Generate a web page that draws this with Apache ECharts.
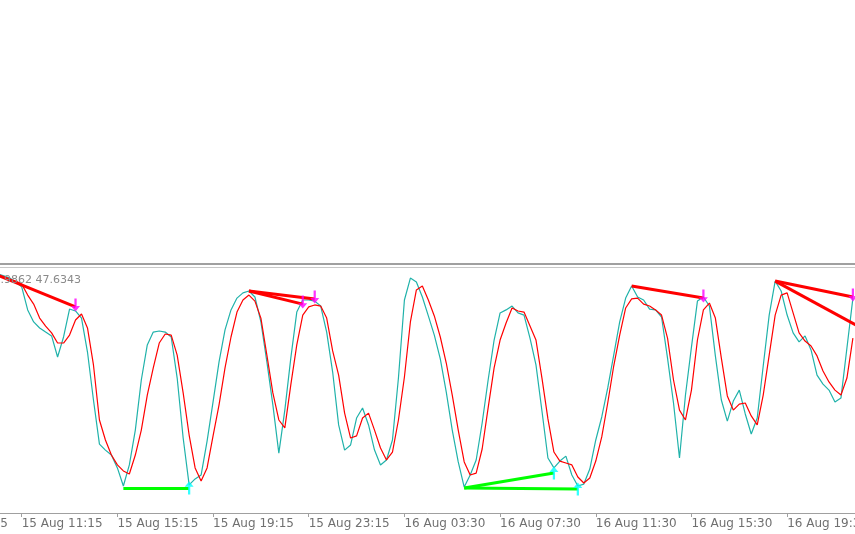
<!DOCTYPE html>
<html><head><meta charset="utf-8">
<script src="https://cdn.jsdelivr.net/npm/echarts@6/dist/echarts.min.js"></script>
<style>html,body{margin:0;padding:0;background:#fff}#c{width:855px;height:534px}</style>
</head><body><div id="c"></div>
<script>
// bar index of first value (bar 0 = 15 Aug 11:15, M15 bars)
const firstBar = -4;
// Stochastic main line (%K)
const stochMain = [
  100.0,99.1,98.1,96.3,94.0,83.3,77.7,74.9,73.0,71.2,61.4,70.7,83.7,82.8,
  79.5,63.7,41.4,20.9,18.1,15.8,9.8,1.4,11.2,27.4,
  50.7,67.0,73.0,73.5,73.0,70.7,51.6,23.7,1.9,4.7,
  6.5,22.3,40.5,59.1,74.0,83.3,88.8,91.2,92.1,89.3,
  77.7,59.1,39.1,16.7,36.7,60.9,82.3,87.9,87.9,87.4,
  85.1,73.0,54.4,29.8,18.1,20.5,33.0,37.7,29.8,18.1,
  11.2,13.5,22.8,51.6,87.9,98.1,96.3,89.3,80.5,71.6,
  60.5,45.1,27.4,12.6,0.9,6.5,13.5,30.7,50.7,69.3,
  81.9,83.3,85.1,81.9,80.9,70.2,57.7,36.3,14.4,9.8,
  13.0,15.3,6.5,1.4,2.3,9.3,22.8,33.5,47.0,62.3,
  77.7,88.8,94.4,89.3,87.9,83.7,83.3,80.0,60.9,40.0,
  14.4,43.7,66.0,87.4,89.3,85.1,61.9,41.4,31.6,40.9,
  46.0,34.9,25.6,33.0,57.2,80.9,96.7,92.1,80.9,72.6,
  68.4,71.2,64.7,53.0,48.8,46.0,40.5,42.3,65.6,88.8
];
// Stochastic signal line (%D)
const stochSignal = [
  99.5,98.6,97.7,96.7,95.3,90.2,86.0,79.5,75.8,72.6,67.9,67.9,71.6,78.6,
  81.4,74.9,57.7,32.1,22.8,15.8,11.2,8.4,7.0,15.8,
  27.4,43.7,56.3,67.9,72.1,71.6,62.3,44.7,25.1,9.8,
  3.7,9.8,24.7,39.1,56.3,70.7,82.3,87.9,90.2,87.4,
  79.5,62.3,44.7,32.1,28.4,48.4,67.0,80.9,84.7,85.6,
  85.1,79.5,64.2,53.0,35.3,23.7,24.7,33.0,35.3,27.4,
  19.1,13.5,17.2,32.1,52.1,77.7,92.6,94.4,87.9,80.5,
  70.7,58.6,43.7,27.4,12.6,6.5,7.4,18.6,37.7,56.3,
  69.3,77.2,84.2,82.8,82.3,75.8,69.3,51.6,32.6,17.2,
  13.0,12.1,11.2,5.6,2.8,5.1,13.0,24.2,40.0,57.2,
  71.6,84.2,88.4,88.8,86.0,85.1,83.3,80.9,70.2,50.7,
  36.7,32.1,46.0,69.3,83.3,86.5,79.5,60.9,43.3,36.7,
  39.5,40.0,34.0,29.8,43.7,62.3,80.9,90.2,91.2,81.9,
  72.6,68.8,66.5,61.9,54.9,49.8,46.0,43.7,51.6,70.2
];
// divergence segments: [bar1, value1, bar2, value2]
const bearishLines = [[-5,100.6,9,84.7],[38,92.1,47,86.0],[38,92.1,49,88.4],[102,94.4,114,88.8],[126,96.7,139,89.3],[126,96.7,141,74.0]];
const bullishLines = [[17,0.5,28,0.5],[74,0.5,89,7.4],[74,0.5,93,0.0]];
// signal arrows: [bar, value]
const sellArrows = [[9,84.7],[47,86.0],[49,88.4],[114,88.8],[139,89.3]];
const buyArrows = [[28,0.5],[89,7.4],[93,0.0]];
// time axis
const tickBars = [0,16,32,48,64,80,96,112,128];
const tickLabels = ['15 Aug 11:15','15 Aug 15:15','15 Aug 19:15','15 Aug 23:15','16 Aug 03:30','16 Aug 07:30','16 Aug 11:30','16 Aug 15:30','16 Aug 19:30'];
const prevTickBar = -16, prevTickLabel = '15 Aug 07:15';
const headerText = '47.9862 47.6343';

const mainData = stochMain.map((v, j) => [firstBar + j, v]);
const signalData = stochSignal.map((v, j) => [firstBar + j, v]);
const segs = arr => arr.map(s => ({coords: [[s[0], s[1]], [s[2], s[3]]]}));

const downArrow = 'path://M3,0 L5,0 L5,7 L8,7 L4,12 L0,7 L3,7 Z';
const upArrow = 'path://M4,0 L8,5 L5,5 L5,12 L3,12 L3,5 L0,5 Z';

const chart = echarts.init(document.getElementById('c'), null, {renderer: 'canvas'});
const labelFont = 'DejaVu Sans';
chart.setOption({
  animation: false,
  backgroundColor: '#ffffff',
  grid: {left: 0, right: 0, top: 268, bottom: 21, containLabel: false, outerBoundsMode: 'none'},
  xAxis: {
    type: 'value', min: -3.63, max: 139.35,
    axisLine: {show: true, onZero: false, lineStyle: {color: '#a0a0a0', width: 1}},
    axisTick: {show: true, length: 4, lineStyle: {color: '#a0a0a0'}, customValues: tickBars},
    axisLabel: {
      customValues: tickBars, align: 'left', margin: 5, color: '#707070',
      fontFamily: labelFont, fontSize: 12, hideOverlap: false,
      formatter: v => { const k = tickBars.indexOf(Math.round(v)); return k >= 0 ? tickLabels[k] : ''; }
    },
    splitLine: {show: false}
  },
  yAxis: {type: 'value', min: -11.16, max: 102.79, show: false, splitLine: {show: false}},
  series: [
    {type: 'line', data: mainData, symbol: 'none', lineStyle: {color: '#20b2aa', width: 1.2}, z: 2},
    {type: 'line', data: signalData, symbol: 'none', lineStyle: {color: '#ff0000', width: 1.2}, z: 3},
    {type: 'lines', coordinateSystem: 'cartesian2d', data: segs(bearishLines), lineStyle: {color: '#ff0000', width: 3, opacity: 1}, z: 4},
    {type: 'lines', coordinateSystem: 'cartesian2d', data: segs(bullishLines), lineStyle: {color: '#00ff00', width: 3, opacity: 1}, z: 4},
    {type: 'scatter', data: sellArrows, symbol: downArrow, symbolSize: [9, 13], symbolOffset: [0, -2], itemStyle: {color: '#ff00ff'}, z: 5},
    {type: 'scatter', data: buyArrows, symbol: upArrow, symbolSize: [9, 13], itemStyle: {color: '#00ffff'}, z: 5}
  ]
});

const px = chart.convertToPixel({xAxisIndex: 0}, prevTickBar);
chart.setOption({
  graphic: [
    {type: 'rect', shape: {x: 0, y: 263, width: 855, height: 2}, style: {fill: '#a0a0a0'}, silent: true},
    {type: 'rect', shape: {x: 0, y: 267, width: 855, height: 1}, style: {fill: '#c8c8c8'}, silent: true},
    {type: 'text', x: 81, y: 280, style: {text: headerText, fill: '#8a8a8a', font: '11px "DejaVu Sans"', align: 'right', verticalAlign: 'middle'}, z: 10},
    {type: 'text', x: px + 1, y: 518, style: {text: prevTickLabel, fill: '#707070', font: '12px "DejaVu Sans"', align: 'left', verticalAlign: 'top'}, z: 10}
  ]
});
</script>
</body></html>
